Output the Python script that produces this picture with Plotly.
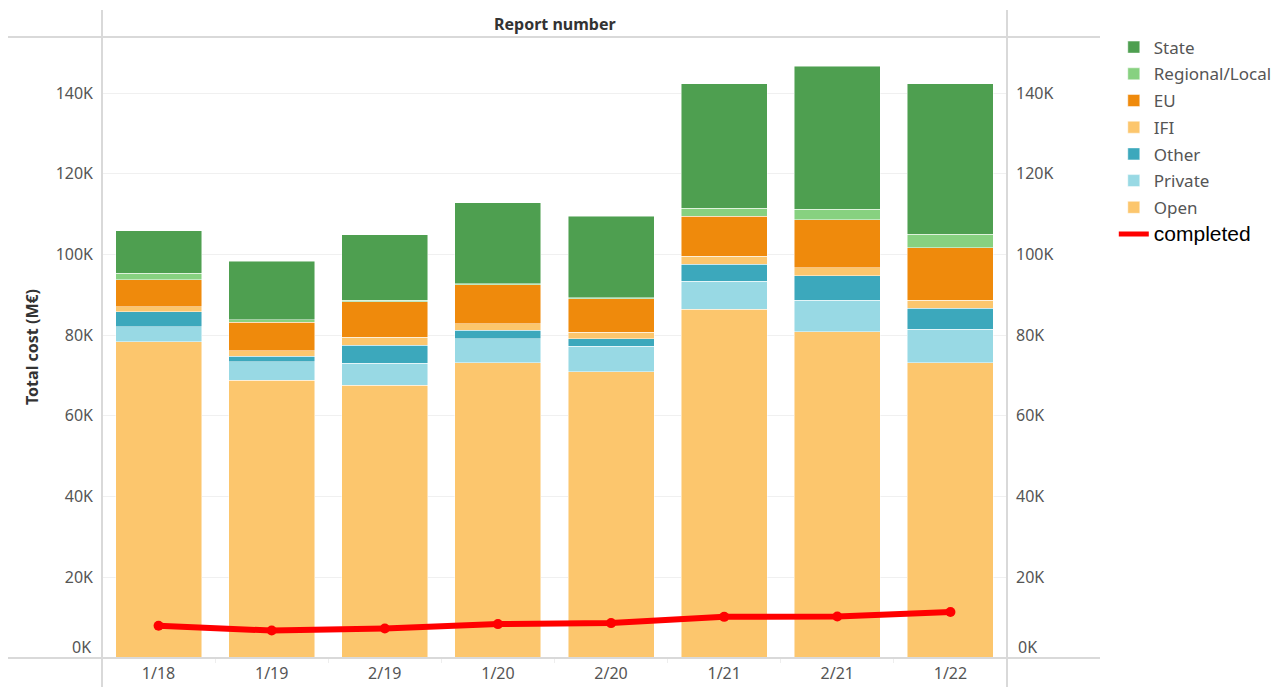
import plotly.graph_objects as go

categories = ["1/18", "1/19", "2/19", "1/20", "2/20", "1/21", "2/21", "1/22"]

# values in M€
open_vals     = [78400, 68800, 67600, 73200, 70900, 86400, 80800, 73200]
private_vals  = [3700, 4600, 5500, 5900, 6300, 7000, 7900, 8300]
other_vals    = [3700, 1400, 4400, 2100, 1900, 4200, 6000, 5200]
ifi_vals      = [1300, 1400, 2000, 1600, 1600, 2000, 2000, 2000]
eu_vals       = [6600, 7000, 8800, 9700, 8300, 9900, 11900, 13000]
regional_vals = [1700, 600, 300, 300, 300, 2000, 2600, 3300]
state_vals    = [10500, 14500, 16300, 20000, 20200, 30800, 35400, 37300]
completed     = [8000, 6800, 7300, 8400, 8650, 10200, 10300, 11400]

tick_vals = [0, 20000, 40000, 60000, 80000, 100000, 120000, 140000]
tick_text = ["", "20K", "40K", "60K", "80K", "100K", "120K", "140K"]

series = [
    ("Open", open_vals, "#FCC66D", 7),
    ("Private", private_vals, "#98D9E4", 6),
    ("Other", other_vals, "#3CA8BC", 5),
    ("IFI", ifi_vals, "#FCC66D", 4),
    ("EU", eu_vals, "#EF8A0C", 3),
    ("Regional/Local", regional_vals, "#87D180", 2),
    ("State", state_vals, "#4E9F50", 1),
]

FONT = "Noto Sans"
TXT = "#555555"
LINE = "#d9d9d9"

fig = go.Figure()
for name, vals, color, rank in series:
    fig.add_trace(go.Bar(
        x=categories, y=vals, name=name, legendrank=rank, legendgroup=name,
        marker=dict(color=color, line=dict(color="rgba(255,255,255,0.6)", width=0.8)),
    ))

fig.add_trace(go.Scatter(
    x=categories, y=completed, name="completed", yaxis="y2",
    mode="lines+markers", showlegend=False,
    line=dict(color="#FF0000", width=6), marker=dict(color="#FF0000", size=10),
))
# legend entry for the line (line only, no marker)
fig.add_trace(go.Scatter(
    x=[None], y=[None], yaxis="y2", mode="lines", legendrank=8, legendgroup="completed",
    name='<span style="font-family:Liberation Sans, Arial;font-size:21px;color:#000000">completed</span>',
    line=dict(color="#FF0000", width=5),
))

# the page body adds an 8px offset, so the figure is 8px smaller and margins shifted
yr = [0, 153900]
fig.update_layout(
    width=1280, height=679,
    margin=dict(l=94, r=281, t=29, b=29, autoexpand=False),
    paper_bgcolor="white", plot_bgcolor="white",
    barmode="stack", bargap=0.24,
    font=dict(family=FONT, size=16, color=TXT),
    xaxis=dict(
        type="category", showgrid=False, zeroline=False, showline=False,
        ticks="outside", tickson="boundaries", ticklen=4, tickcolor="#eeeeee",
        ticklabelstandoff=4,
        tickfont=dict(size=16, color=TXT), automargin=False,
    ),
    yaxis=dict(
        range=yr, tickvals=tick_vals, ticktext=tick_text,
        showgrid=True, gridcolor="#f0f0f0", gridwidth=1, zeroline=False,
        showline=False, ticks="", ticklabelstandoff=8, automargin=False,
        tickfont=dict(size=16, color=TXT),
    ),
    yaxis2=dict(
        range=yr, tickvals=tick_vals, ticktext=tick_text, overlaying="y",
        side="right", showgrid=False, zeroline=False, showline=False,
        ticks="", ticklabelstandoff=8, automargin=False,
        tickfont=dict(size=16, color=TXT),
    ),
    legend=dict(
        x=1.118, y=1.012, xanchor="left", yanchor="top",
        traceorder="grouped", tracegroupgap=1.6,
        font=dict(family=FONT, size=17, color=TXT),
        bgcolor="rgba(0,0,0,0)", itemwidth=30,
    ),
    showlegend=True,
)

# frame lines (Tableau-style header and axis rules), positions in page pixels
ytop_px, ybot_px = 37, 658
def py(px):
    return (ybot_px - px) / (ybot_px - ytop_px)
def px_(x):
    return (x - 102) / 905

shapes = [
    dict(type="line", xref="paper", yref="paper", x0=px_(8), x1=px_(1100), y0=1, y1=1,
         line=dict(color=LINE, width=2)),
    dict(type="line", xref="paper", yref="paper", x0=px_(8), x1=px_(1100), y0=0, y1=0,
         line=dict(color=LINE, width=2)),
    dict(type="line", xref="paper", yref="paper", x0=0, x1=0, y0=py(10), y1=py(687),
         line=dict(color=LINE, width=2)),
    dict(type="line", xref="paper", yref="paper", x0=1, x1=1, y0=py(10), y1=py(687),
         line=dict(color=LINE, width=2)),
]
fig.update_layout(shapes=shapes)

fig.add_annotation(text="<b>Report number</b>", xref="paper", yref="paper",
                   x=0.5, y=py(24), xanchor="center", yanchor="middle",
                   showarrow=False, font=dict(size=16, color="#333333"))
fig.add_annotation(text="<b>Total cost (M€)</b>", xref="paper", yref="paper",
                   x=px_(32), y=py(347), xanchor="center", yanchor="middle",
                   textangle=-90, showarrow=False,
                   font=dict(size=16, color="#333333"))
fig.add_annotation(text="0K", xref="paper", yref="y", x=0, y=0, xanchor="right",
                   xshift=-9, yshift=11, showarrow=False, font=dict(size=16, color=TXT))
fig.add_annotation(text="0K", xref="paper", yref="y", x=1, y=0, xanchor="left",
                   xshift=9, yshift=11, showarrow=False, font=dict(size=16, color=TXT))

fig.write_html("out.html")
